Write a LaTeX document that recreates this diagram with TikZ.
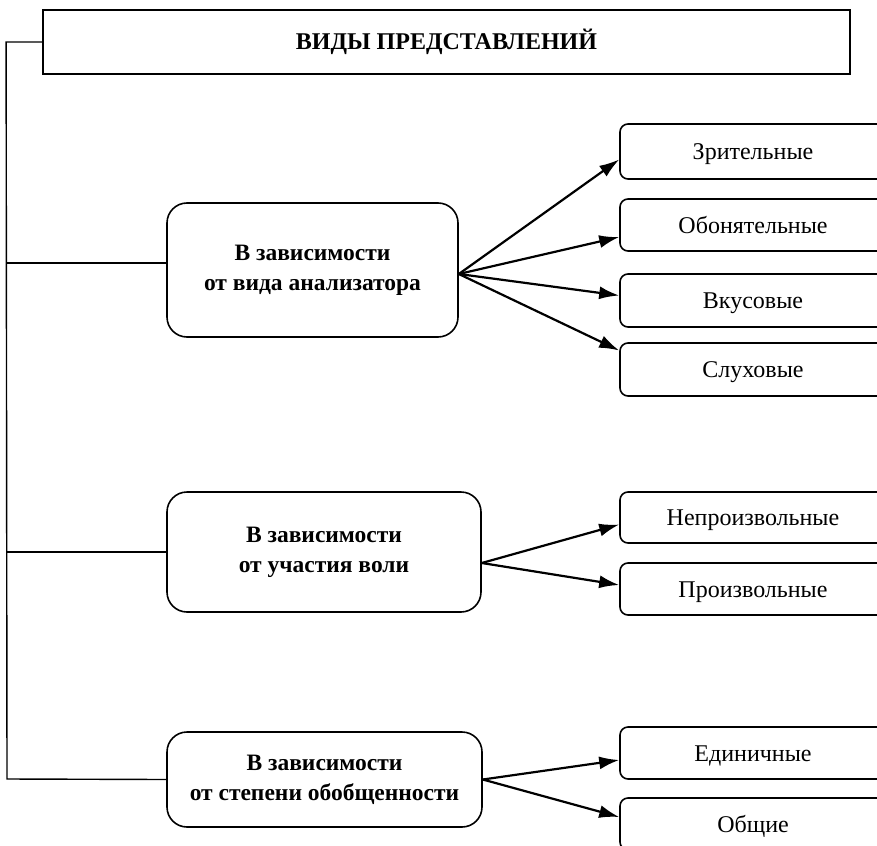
\documentclass[tikz,border=0pt]{standalone}
\usepackage{fontspec}
\setmainfont{Liberation Serif}
\usetikzlibrary{arrows.meta}
\tikzset{
    bigbox/.style={draw,line width=1.6pt,rounded corners=20pt,inner sep=0pt,align=center,font=\fontsize{23.5}{30}\selectfont\bfseries},
    kindbox/.style={draw,line width=1.6pt,rounded corners=8pt,inner sep=0pt,minimum width=266pt,text height=16pt,text depth=0pt,font=\fontsize{24}{26}\selectfont},
    branch/.style={line width=2.2pt,-{Latex[length=20pt,width=13pt]}}
}
\begin{document}
\begin{tikzpicture}[x=1pt,y=-1pt]
    \useasboundingbox (0,0) rectangle (877,845);
    \clip (0,0) rectangle (877,845);

    % Header
    \node[draw,line width=1.8pt,inner sep=0pt,minimum width=807pt,minimum height=64pt,font=\fontsize{24}{26}\selectfont\bfseries] (title) at (446.5,42) {ВИДЫ ПРЕДСТАВЛЕНИЙ};

    % Groups
    \node[bigbox,minimum width=291pt,minimum height=134pt] (anal) at (312.5,270) {В зависимости\\от вида анализатора};
    \node[bigbox,minimum width=314pt,minimum height=120pt] (vol) at (324,552) {В зависимости\\от участия воли};
    \node[bigbox,minimum width=315pt,minimum height=95pt] (obob) at (324.5,779.5) {В зависимости\\от степени обобщенности};

    % Kinds
    \node[kindbox,minimum height=55pt] (zrit) at (753,151.5) {Зрительные};
    \node[kindbox,minimum height=52pt] (obon) at (753,225) {Обонятельные};
    \node[kindbox,minimum height=53pt] (vkus) at (753,300.5) {Вкусовые};
    \node[kindbox,minimum height=53pt] (sluh) at (753,369.5) {Слуховые};
    \node[kindbox,minimum height=51pt] (neproizv) at (753,517.5) {Непроизвольные};
    \node[kindbox,minimum height=52pt] (proizv) at (753,589) {Произвольные};
    \node[kindbox,minimum height=52pt] (edin) at (753,753) {Единичные};
    \node[kindbox,minimum height=52pt] (obsh) at (753,824) {Общие};

    % Trunk on the left
    \coordinate (trunk) at (7,779);
    \draw[line width=1.4pt] (title.west) -- ++(-36,0) -- (trunk) -- (obob.west);
    \draw[line width=1.4pt] ([yshift=7pt]anal.west) -- ([yshift=7pt]anal.west -| trunk);
    \draw[line width=1.4pt] (vol.west) -- (vol.west -| trunk);

    % Arrows
    \foreach \k/\s in {zrit/-8,obon/-12,vkus/5,sluh/19}
        \draw[branch] ([yshift=-4pt]anal.east) -- ([yshift=\s pt]\k.west);
    \foreach \k/\s in {neproizv/-7,proizv/4}
        \draw[branch] ([yshift=-11pt]vol.east) -- ([yshift=\s pt]\k.west);
    \foreach \k/\s in {edin/-7,obsh/7}
        \draw[branch] (obob.east) -- ([yshift=\s pt]\k.west);
\end{tikzpicture}
\end{document}
